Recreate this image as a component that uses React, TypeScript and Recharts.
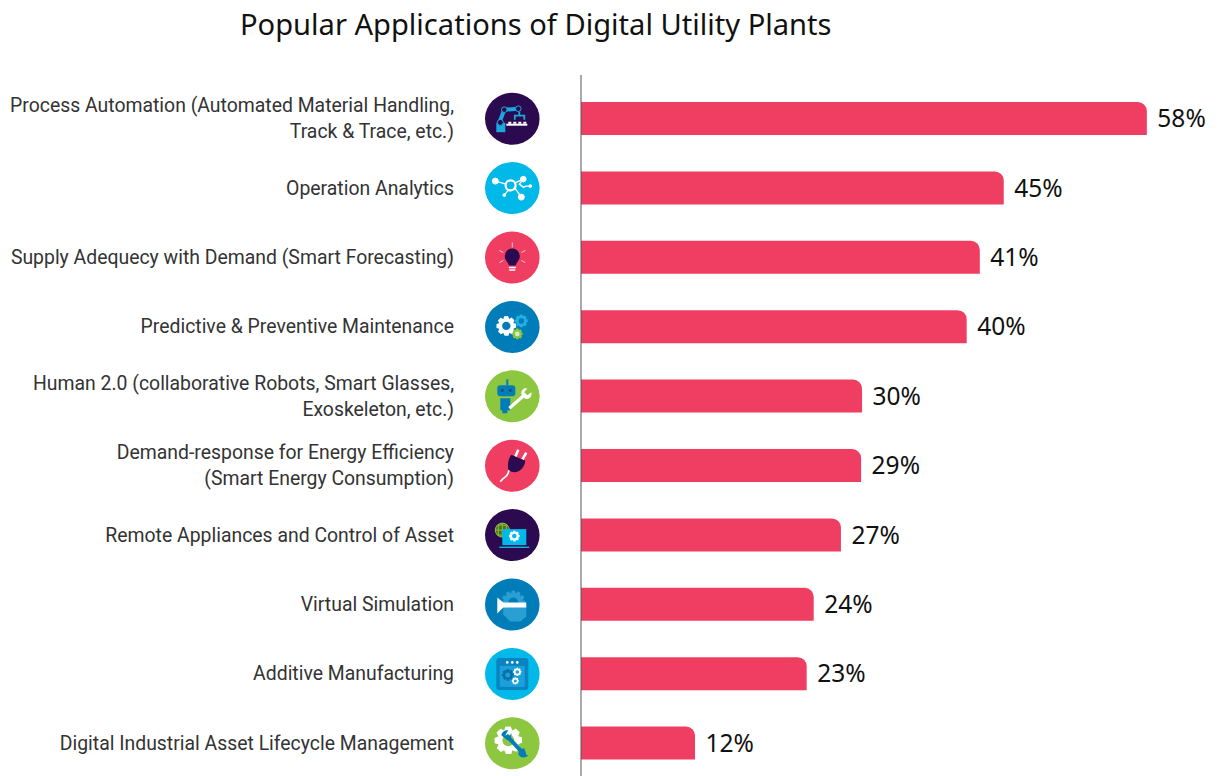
import React from 'react';
import { BarChart, Bar, XAxis, YAxis, LabelList } from 'recharts';

const categories = [
  'Process Automation (Automated Material Handling,|Track & Trace, etc.)',
  'Operation Analytics',
  'Supply Adequecy with Demand (Smart Forecasting)',
  'Predictive & Preventive Maintenance',
  'Human 2.0 (collaborative Robots, Smart Glasses,|Exoskeleton, etc.)',
  'Demand-response for Energy Efficiency|(Smart Energy Consumption)',
  'Remote Appliances and Control of Asset',
  'Virtual Simulation',
  'Additive Manufacturing',
  'Digital Industrial Asset Lifecycle Management',
];
// printed percentages
const percentLabels = ['58%', '45%', '41%', '40%', '30%', '29%', '27%', '24%', '23%', '12%'];
// bar lengths as drawn, the picture's bars are not quite in line with the printed numbers
const barLengths = [60.3, 45.05, 42.5, 41.1, 29.95, 29.85, 27.7, 24.8, 24.05, 12.15];

const data = categories.map((name, i) => ({ name, value: barLengths[i], label: percentLabels[i] }));

const PURPLE = '#2b0a4f';
const CYAN = '#00b9e8';
const RED = '#f03e63';
const BLUE = '#007db8';
const GREEN = '#8dc63f';
const FONT = 'Roboto, sans-serif';

const gearPath = (cx: number, cy: number, r: number, teeth: number) => {
  const pts: string[] = [];
  const inner = r * 0.76;
  for (let i = 0; i < teeth; i++) {
    const step = (Math.PI * 2) / teeth;
    const a = i * step;
    [[inner, -0.5], [r, -0.28], [r, 0.22], [inner, 0.5]].forEach(([rad, k]) => {
      pts.push(`${(cx + rad * Math.cos(a + k * step)).toFixed(2)} ${(cy + rad * Math.sin(a + k * step)).toFixed(2)}`);
    });
  }
  return 'M' + pts.join('L') + 'Z';
};

const Gear = ({ x, y, r, fill, hole, teeth = 8 }: any) => (
  <g>
    <path d={gearPath(x, y, r, teeth)} fill={fill} />
    <circle cx={x} cy={y} r={r * 0.42} fill={hole} />
  </g>
);

const iconColors = [PURPLE, CYAN, RED, BLUE, GREEN, RED, PURPLE, BLUE, CYAN, GREEN];

const iconGlyphs = [
  // robot arm
  <g key="0">
    <path d="M-13 4 L-8 -9 L6 -10" fill="none" stroke="#1ba9dd" strokeWidth={4} />
    <rect x={-16} y={4} width={9} height={9.5} fill="#1ba9dd" />
    <circle cx={-12} cy={3.7} r={3} fill={PURPLE} stroke="#1ba9dd" />
    <circle cx={-8} cy={-9} r={2.8} fill={PURPLE} stroke="#1ba9dd" />
    <circle cx={6} cy={-10} r={2.8} fill={PURPLE} stroke="#1ba9dd" />
    <path d="M7 -7 L7 -4 M2.5 1 L2.5 -3 L12 -3 L12 1" fill="none" stroke="#1ba9dd" strokeWidth={1.8} />
    <rect x={-6} y={5} width={21} height={2} fill="#fff" />
    <path d="M-4 5 V3 H-1 V5 M1 5 V3 H4 V5 M6 5 V3 H9 V5 M11 5 V3 H14 V5" fill="#fff" />
  </g>,
  // network
  <g key="1" stroke="#fff" fill="#fff">
    <path d="M-17 -7 L-6 -4 M2 -5 L11 -9 M2 -1 L9 9 M-4 2 L-8 7 M11 -9 L7 -4 L11 -1 L14 -2 L18 -2" strokeWidth={1.4} fill="none" />
    <circle cx={-1.7} cy={-2.7} r={5} fill="none" strokeWidth={2.2} />
    <circle cx={-17} cy={-7} r={3} />
    <circle cx={11} cy={-9} r={2.8} />
    <circle cx={9} cy={9} r={3} />
    <circle cx={-8} cy={7} r={1.4} />
    <circle cx={18} cy={-2} r={1.4} />
  </g>,
  // light bulb
  <g key="2">
    <path d="M0 -15 V-10 M-13 -7 L-9 -5 M13 -7 L9 -5 M-13 5 L-9 3 M13 5 L9 3" stroke="#f9c6d1" strokeWidth={1} />
    <path d="M-7.5 -1 A7.5 8 0 1 1 7.5 -1 C7.5 3 3.5 5 3.5 8 H-3.5 C-3.5 5 -7.5 3 -7.5 -1 Z" fill={PURPLE} />
    <path d="M-3.5 10 H3.5 M-3 12.5 H3" stroke="#fff" strokeWidth={1.6} />
  </g>,
  // gears
  <g key="3">
    <Gear x={-6} y={-1} r={10} fill="#fff" hole={BLUE} />
    <Gear x={9} y={-6} r={6.5} fill="#1fb1e6" hole={BLUE} />
    <Gear x={5} y={7} r={5.5} fill={GREEN} hole="#d8eec0" />
  </g>,
  // robot with wrench
  <g key="4">
    <rect x={-6} y={-17} width={2} height={6} fill={BLUE} />
    <rect x={-15} y={-11} width={18} height={11} rx={3} fill={BLUE} />
    <circle cx={-10} cy={-6} r={1.6} fill="#1d4f7a" />
    <circle cx={-2} cy={-6} r={1.6} fill="#1d4f7a" />
    <path d="M-12 2 H-2 V14 H-5 V17 H-10 V14 H-12 Z" fill={BLUE} />
    <path d="M-3 12 L13 -2" stroke="#fff" strokeWidth={3.2} />
    <path d="M9 -2 A5 5 0 0 1 15 -8 L12 -4 L15 -1 L19 -4 A5 5 0 0 1 12 2 Z" fill="#fff" />
  </g>,
  // plug
  <g key="5">
    <path d="M-3 4 C-5 9 -4 10 -8 12 C-10 13 -11 15 -12 16" fill="none" stroke="#fff" strokeWidth={1.7} />
    <path d="M6 -16 L3 -9 M14 -13 L10 -6" stroke="#fff" strokeWidth={2.6} />
    <path d="M-1 -11 L13 -5 C12 3 6 8 -1 6 L-4 4 C-5 -1 -4 -7 -1 -11 Z" fill={PURPLE} />
  </g>,
  // laptop and globe
  <g key="6">
    <circle cx={-10} cy={-5} r={7} fill="#54701f" stroke={GREEN} strokeWidth={1} />
    <path d="M-17 -5 H-3 M-10 -12 V2 M-15 -10 H-5 M-15 0 H-5 M-14 -10 V0 M-6 -10 V0" stroke={GREEN} strokeWidth={0.9} />
    <rect x={-10} y={-6} width={24} height={16} fill={CYAN} />
    <rect x={-13} y={11.5} width={30} height={1.4} fill={CYAN} />
    <Gear x={2} y={1} r={5.5} fill="#fff" hole={CYAN} />
  </g>,
  // head and beam
  <g key="7">
    <Gear x={1} y={-2} r={12} fill="#2a9fd4" hole={BLUE} teeth={12} />
    <path d="M-9 2 H14 V12 L8 17 H-2 L-9 10 Z" fill="#2a9fd4" />
    <path d="M-15 -7 L-9 -2 H14 V3 H-9 L-15 9 Z" fill="#fff" />
  </g>,
  // window with gears
  <g key="8">
    <rect x={-16} y={-16} width={32} height={32} rx={3} fill="#0a84c0" />
    <rect x={-12.5} y={-8} width={25} height={21} fill="#1aa0da" />
    <circle cx={-5} cy={-11.5} r={1.3} fill="#fff" />
    <circle cx={0} cy={-11.5} r={1.3} fill="#fff" />
    <circle cx={5} cy={-11.5} r={1.3} fill="#fff" />
    <Gear x={-4.5} y={1} r={6} fill="#0a6fa8" hole="#1aa0da" />
    <Gear x={5} y={-2} r={4.2} fill="#fff" hole="#1aa0da" />
    <Gear x={3} y={7} r={3.6} fill="#fff" hole="#1aa0da" />
  </g>,
  // gear and spanner
  <g key="9">
    <Gear x={-4} y={-3} r={14} fill="#fff" hole={GREEN} />
    <path d="M-6 -8 L11 10" stroke={BLUE} strokeWidth={4} />
    <path d="M-11 -8 A6 6 0 0 1 -4 -13 L-7 -8 L-4 -5 L-1 -10 A6 6 0 0 1 -5 -3 Z" fill={BLUE} />
    <path d="M6 11 A6 6 0 0 1 12 5 L14 11 L10 13 A6 6 0 0 1 16 12 A6 6 0 0 1 6 11 Z" fill={BLUE} />
  </g>,
];

const CategoryTick = ({ y, index, payload }: any) => {
  const lines = String(payload.value).split('|');
  const startY = y - ((lines.length - 1) * 26) / 2;
  return (
    <g>
      {lines.map((line: string, i: number) => (
        <text key={i} x={454} y={startY + i * 26} dy={6.5} textAnchor="end" fontFamily={FONT} fontSize={19.4} fill="#333">
          {line}
        </text>
      ))}
      <g transform={`translate(512.3 ${y})`}>
        <ellipse rx={27.3} ry={26} fill={iconColors[index]} />
        {iconGlyphs[index]}
      </g>
    </g>
  );
};

export default function App() {
  return (
    <div style={{ position: 'absolute', left: 0, top: 0, width: 1221, height: 776, overflow: 'hidden', background: '#fff' }}>
      <div
        style={{
          position: 'absolute',
          left: 240,
          top: 4,
          fontFamily: '"Noto Sans", sans-serif',
          fontSize: 29.1,
          color: '#111',
          whiteSpace: 'nowrap',
        }}
      >
        Popular Applications of Digital Utility Plants
      </div>
      <BarChart
        width={1221}
        height={778}
        layout="vertical"
        data={data}
        barSize={33}
        margin={{ top: 75, right: 0, bottom: 0, left: 0 }}
      >
        <XAxis type="number" hide domain={[0, 68.2]} />
        <YAxis
          type="category"
          dataKey="name"
          width={581}
          padding={{ top: 9, bottom: 0 }}
          axisLine={{ stroke: '#555', strokeWidth: 1 }}
          tickLine={false}
          interval={0}
          tick={<CategoryTick />}
        />
        <Bar dataKey="value" fill={RED} radius={[0, 9, 0, 0]} isAnimationActive={false}>
          <LabelList dataKey="label" position="right" offset={10.5} fontFamily='"Noto Sans", sans-serif' fontSize={24.5} fill="#111" />
        </Bar>
      </BarChart>
    </div>
  );
}
